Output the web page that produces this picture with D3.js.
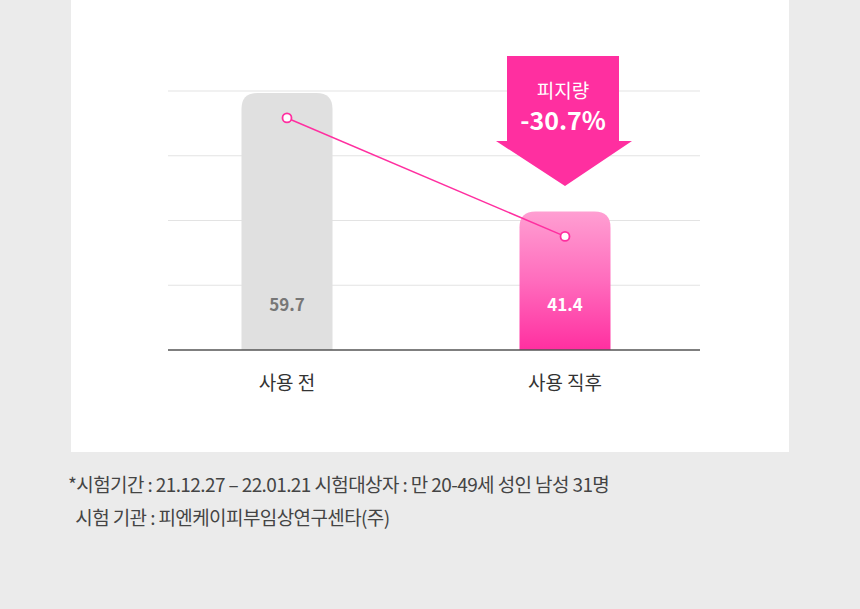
<!DOCTYPE html>
<html>
<head>
<meta charset="utf-8">
<style>
  body { margin: 0; background: #ebebeb; font-family: "Noto Sans CJK KR", "Noto Sans", sans-serif; }
  svg { display: block; }
</style>
</head>
<body>
<svg width="860" height="609"></svg>
<script src="https://d3js.org/d3.v7.min.js"></script>
<script>
  // data
  let categories = ["사용 전", "사용 직후"]
  let values = [59.7, 41.4]
  let gridValues = [30, 40, 50, 60]
  let changeLabel = ["피지량", "-30.7%"]
  let notes = [
    "*시험기간 : 21.12.27 – 22.01.21 시험대상자 : 만 20-49세 성인 남성 31명",
    "  시험 기관 : 피엔케이피부임상연구센타(주)"
  ]

  let svg = d3.select("svg")

  svg.append("rect").attr("x", 71).attr("y", 0).attr("width", 718).attr("height", 452).style("fill", "#fff")

  let cx = d3.scalePoint().domain(categories).range([287, 565])
  let y = d3.scaleLinear().domain([20, 60]).range([350, 91])
  let bw = 91

  let defs = svg.append("defs")
  let g = defs.append("linearGradient").attr("id", "pk").attr("x1", 0).attr("x2", 0).attr("y1", 0).attr("y2", 1)
  g.append("stop").attr("offset", "0%").attr("stop-color", "#ff9fd2")
  g.append("stop").attr("offset", "50%").attr("stop-color", "#ff6cbd")
  g.append("stop").attr("offset", "100%").attr("stop-color", "#ff2fa0")

  svg.selectAll(".grid").data(gridValues).join("line")
    .attr("x1", 168).attr("x2", 700)
    .attr("y1", d => y(d)).attr("y2", d => y(d))
    .style("stroke", "#e3e3e3").style("stroke-width", 1)

  // rounded-top bars
  svg.selectAll(".bar").data(values).join("path")
    .attr("d", (d, i) => {
      let x0 = cx(categories[i]) - bw / 2, x1 = x0 + bw, t = y(d), b = y(20), r = 16
      return `M${x0},${b}V${t + r}Q${x0},${t} ${x0 + r},${t}H${x1 - r}Q${x1},${t} ${x1},${t + r}V${b}Z`
    })
    .style("fill", (d, i) => i == 0 ? "#e0e0e0" : "url(#pk)")

  svg.append("line").attr("x1", 168).attr("x2", 700).attr("y1", y(20)).attr("y2", y(20))
    .style("stroke", "#555").style("stroke-width", 1.5)

  svg.selectAll(".val").data(values).join("text")
    .attr("x", (d, i) => cx(categories[i])).attr("y", 311)
    .attr("text-anchor", "middle").style("font-size", "17px").style("font-weight", "bold")
    .style("fill", (d, i) => i == 0 ? "#777" : "#fff")
    .text(d => d.toFixed(1))

  svg.selectAll(".cat").data(categories).join("text")
    .attr("x", d => cx(d)).attr("y", 390)
    .attr("text-anchor", "middle").style("font-size", "19px").style("fill", "#333")
    .text(d => d)

  let pts = values.map((d, i) => [cx(categories[i]), y(d) + 25])
  svg.append("path").attr("d", d3.line()(pts)).style("stroke", "#ff2fa0").style("stroke-width", 1.5).style("fill", "none")
  svg.selectAll(".dot").data(pts).join("circle")
    .attr("cx", d => d[0]).attr("cy", d => d[1]).attr("r", 4.5)
    .style("fill", "#fff").style("stroke", "#ff2fa0").style("stroke-width", 1.8)

  // arrow
  let ax = cx(categories[1])
  svg.append("path")
    .attr("d", `M${ax - 58},56H${ax + 54}V141H${ax + 67}L${ax},186L${ax - 69},141H${ax - 58}Z`)
    .style("fill", "#ff2fa0")
  svg.append("text").attr("x", ax - 2).attr("y", 98).attr("text-anchor", "middle")
    .style("font-size", "19px").style("fill", "#fff").text(changeLabel[0])
  svg.append("text").attr("x", ax - 2).attr("y", 130).attr("text-anchor", "middle")
    .style("font-size", "25px").style("font-weight", "bold").style("fill", "#fff").text(changeLabel[1])

  svg.selectAll(".note").data(notes).join("text")
    .attr("x", 68).attr("y", (d, i) => 492 + i * 33)
    .style("font-size", "19px").style("letter-spacing", "-0.6px").style("fill", "#444")
    .attr("xml:space", "preserve")
    .text(d => d)
</script>
</body>
</html>
